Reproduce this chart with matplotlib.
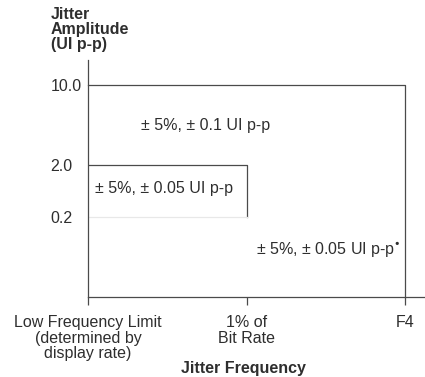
import numpy as np
import matplotlib
matplotlib.use("Agg")
import matplotlib.pyplot as plt

# ---- data ----
freq_labels = ["Low Frequency Limit\n(determined by\ndisplay rate)", "1% of\nBit Rate", "F4"]
freq_pos = [0, 1, 2]
amp_levels = [10.0, 2.0, 0.2]
amp_labels = ["10.0", "2.0", "0.2"]
region_texts = ["\u00b1 5%, \u00b1 0.1 UI p-p", "\u00b1 5%, \u00b1 0.05 UI p-p", "\u00b1 5%, \u00b1 0.05 UI p-p$^{\u2022}$"]

# schematic (non-linear) amplitude axis: value -> drawing height
_vals = np.array([0.0, 0.2, 2.0, 10.0, 20.0])
_hts = np.array([0.0, 80.0, 132.0, 212.0, 312.0])
def fwd(v):
    return np.interp(v, _vals, _hts)
def inv(h):
    return np.interp(h, _hts, _vals)

plt.rcParams['font.family'] = ['Liberation Sans', 'DejaVu Sans']
line_c = '#4a4a4a'
text_c = '#2e2e2e'
fs = 11.5

fig = plt.figure(figsize=(4.25, 3.77), dpi=100)
ax = fig.add_axes([88/425, 80/377, 337/425, 237/377])
ax.set_yscale('function', functions=(fwd, inv))
ax.set_xlim(0, 2.126)
ax.set_ylim(0, inv(237.0))

# outer mask: 10.0 out to F4
ax.plot([freq_pos[0], freq_pos[2], freq_pos[2]], [amp_levels[0], amp_levels[0], 0],
        color=line_c, lw=0.9, clip_on=False)
# inner mask: 2.0 out to 1% of bit rate, down to 0.2
ax.plot([freq_pos[0], freq_pos[1], freq_pos[1]], [amp_levels[1], amp_levels[1], amp_levels[2]],
        color=line_c, lw=0.9)
# faint 0.2 level line
ax.plot([freq_pos[0], freq_pos[1]], [amp_levels[2], amp_levels[2]], color='#e8e8e8', lw=0.9)

ax.text(0.74, 6.0, region_texts[0], ha='center', va='center', fontsize=fs, color=text_c)
ax.text(0.045, 1.17, region_texts[1], ha='left', va='center', fontsize=fs, color=text_c)
ax.text(1.97, 0.1175, region_texts[2], ha='right', va='center', fontsize=fs, color=text_c)

for s in ['top', 'right']:
    ax.spines[s].set_visible(False)
for s in ['left', 'bottom']:
    ax.spines[s].set_color(line_c)
    ax.spines[s].set_linewidth(0.9)

ax.set_xticks(freq_pos)
ax.set_xticklabels(freq_labels, fontsize=fs, color=text_c, linespacing=1.05, va='top')
ax.tick_params(axis='x', direction='out', length=6, width=0.9, color=line_c, pad=7)
ax.set_yticks(amp_levels)
ax.set_yticklabels(amp_labels, fontsize=fs, color=text_c, ha='left')
ax.tick_params(axis='y', length=0, pad=27)
ax.yaxis.set_minor_locator(matplotlib.ticker.NullLocator())

ax.set_xlabel("Jitter Frequency", fontsize=fs, fontweight='bold', color=text_c)
ax.xaxis.set_label_coords((243-88)/337, -(369-297)/237)
ax.xaxis.label.set_va('center')

fig.text(51/425, 1-7/377, "Jitter\nAmplitude\n(UI p-p)", ha='left', va='top',
         fontsize=fs, fontweight='bold', color=text_c, linespacing=1.0)

fig.savefig("out.png", dpi=100)
